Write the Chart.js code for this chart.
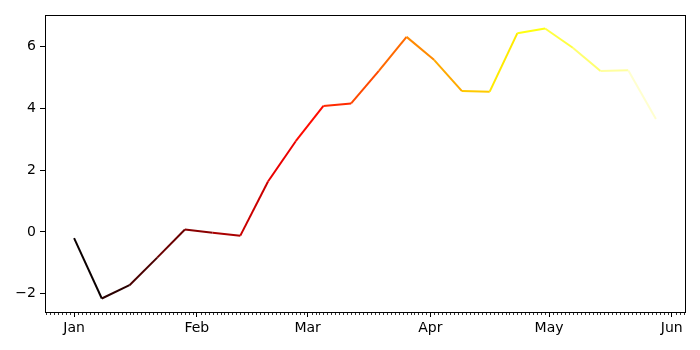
<!DOCTYPE html>
<html>
<head>
<meta charset="utf-8">
<script src="https://cdn.jsdelivr.net/npm/chart.js@4"></script>
<style>
  html, body { margin: 0; padding: 0; background: #fff; }
  #wrap { width: 700px; height: 350px; }
</style>
</head>
<body>
<div id="wrap"><canvas id="chart" width="700" height="350"></canvas></div>
<script>
// Weekly samples, Jan 1 .. May 28
const dates = [
    '2021-01-01', '2021-01-08', '2021-01-15', '2021-01-22', '2021-01-29',
    '2021-02-05', '2021-02-12', '2021-02-19', '2021-02-26',
    '2021-03-05', '2021-03-12', '2021-03-19', '2021-03-26',
    '2021-04-02', '2021-04-09', '2021-04-16', '2021-04-23', '2021-04-30',
    '2021-05-07', '2021-05-14', '2021-05-21', '2021-05-28'
];
const values = [
    -0.2, -2.15, -1.72, -0.83, 0.08,
    -0.03, -0.12, 1.63, 2.93,
    4.07, 4.15, 5.2, 6.3,
    5.55, 4.55, 4.53, 6.42, 6.57,
    5.95, 5.2, 5.22, 3.65
];
const monthLabels = ['Jan', 'Feb', 'Mar', 'Apr', 'May', 'Jun'];
const monthStarts = ['2021-01-01', '2021-02-01', '2021-03-01', '2021-04-01', '2021-05-01', '2021-06-01'];
const yTicks = [-2, 0, 2, 4, 6];

const DAY = 86400000;
const t0 = Date.parse(dates[0]);
function dayOf(s) { return (Date.parse(s) - t0) / DAY; }

const xs = dates.map(dayOf);
const monthDays = monthStarts.map(dayOf);
const points = xs.map((x, i) => ({ x: x, y: values[i] }));

// matplotlib-like 5% margins
const xSpan = xs[xs.length - 1] - xs[0];
const yLo = Math.min(...values), yHi = Math.max(...values);
const ySpan = yHi - yLo;

// 'hot' colormap
function hot(t) {
    const c = v => Math.max(0, Math.min(1, v));
    const r = c(0.0416 + (1 - 0.0416) * t / 0.365079);
    const g = c((t - 0.365079) / (0.746032 - 0.365079));
    const b = c((t - 0.746032) / (1 - 0.746032));
    return 'rgb(' + Math.round(r * 255) + ',' + Math.round(g * 255) + ',' + Math.round(b * 255) + ')';
}

const FONT = { family: 'DejaVu Sans', size: 14 };

// frame + daily minor ticks
const framePlugin = {
    id: 'frame',
    afterDraw(chart) {
        const { ctx, chartArea: a } = chart;
        const xs_ = chart.scales.x;
        ctx.save();
        ctx.strokeStyle = '#000';
        ctx.lineWidth = 1;
        ctx.strokeRect(Math.round(a.left) + 0.5, Math.round(a.top) + 0.5,
            Math.round(a.right - a.left), Math.round(a.bottom - a.top));
        ctx.beginPath();
        for (let d = Math.ceil(xs_.min); d <= xs_.max; d++) {
            if (monthDays.includes(d)) continue;
            const px = Math.round(xs_.getPixelForValue(d)) + 0.5;
            ctx.moveTo(px, Math.round(a.bottom));
            ctx.lineTo(px, Math.round(a.bottom) + 3);
        }
        ctx.lineWidth = 0.8;
        ctx.stroke();
        ctx.restore();
    }
};

new Chart(document.getElementById('chart'), {
    type: 'line',
    data: {
        datasets: [{
            data: points,
            borderWidth: 2,
            pointRadius: 0,
            tension: 0,
            fill: false,
            segment: {
                borderColor: ctx => hot(ctx.p0DataIndex / (points.length - 1))
            }
        }]
    },
    options: {
        responsive: false,
        animation: false,
        layout: { padding: { left: 0, right: 15, top: 15, bottom: 0 } },
        plugins: { legend: { display: false }, tooltip: { enabled: false } },
        scales: {
            x: {
                type: 'linear',
                min: xs[0] - 0.05 * xSpan,
                max: xs[xs.length - 1] + 0.05 * xSpan,
                afterBuildTicks: s => { s.ticks = monthDays.map(v => ({ value: v })); },
                afterFit: s => { s.height = 38; },
                grid: { drawOnChartArea: false, drawTicks: true, tickLength: 5, tickColor: '#000' },
                border: { display: true, color: '#000' },
                ticks: {
                    color: '#000', font: FONT, padding: 3, maxRotation: 0, autoSkip: false,
                    callback: v => monthLabels[monthDays.indexOf(v)]
                }
            },
            y: {
                min: yLo - 0.05 * ySpan,
                max: yHi + 0.05 * ySpan,
                afterBuildTicks: s => { s.ticks = yTicks.map(v => ({ value: v })); },
                afterFit: s => { s.width = 45; },
                grid: { drawOnChartArea: false, drawTicks: true, tickLength: 5, tickColor: '#000' },
                border: { display: true, color: '#000' },
                ticks: {
                    color: '#000', font: FONT, padding: 4,
                    callback: v => (v < 0 ? '\u2212' + Math.abs(v) : String(v))
                }
            }
        }
    },
    plugins: [framePlugin]
});
</script>
</body>
</html>
